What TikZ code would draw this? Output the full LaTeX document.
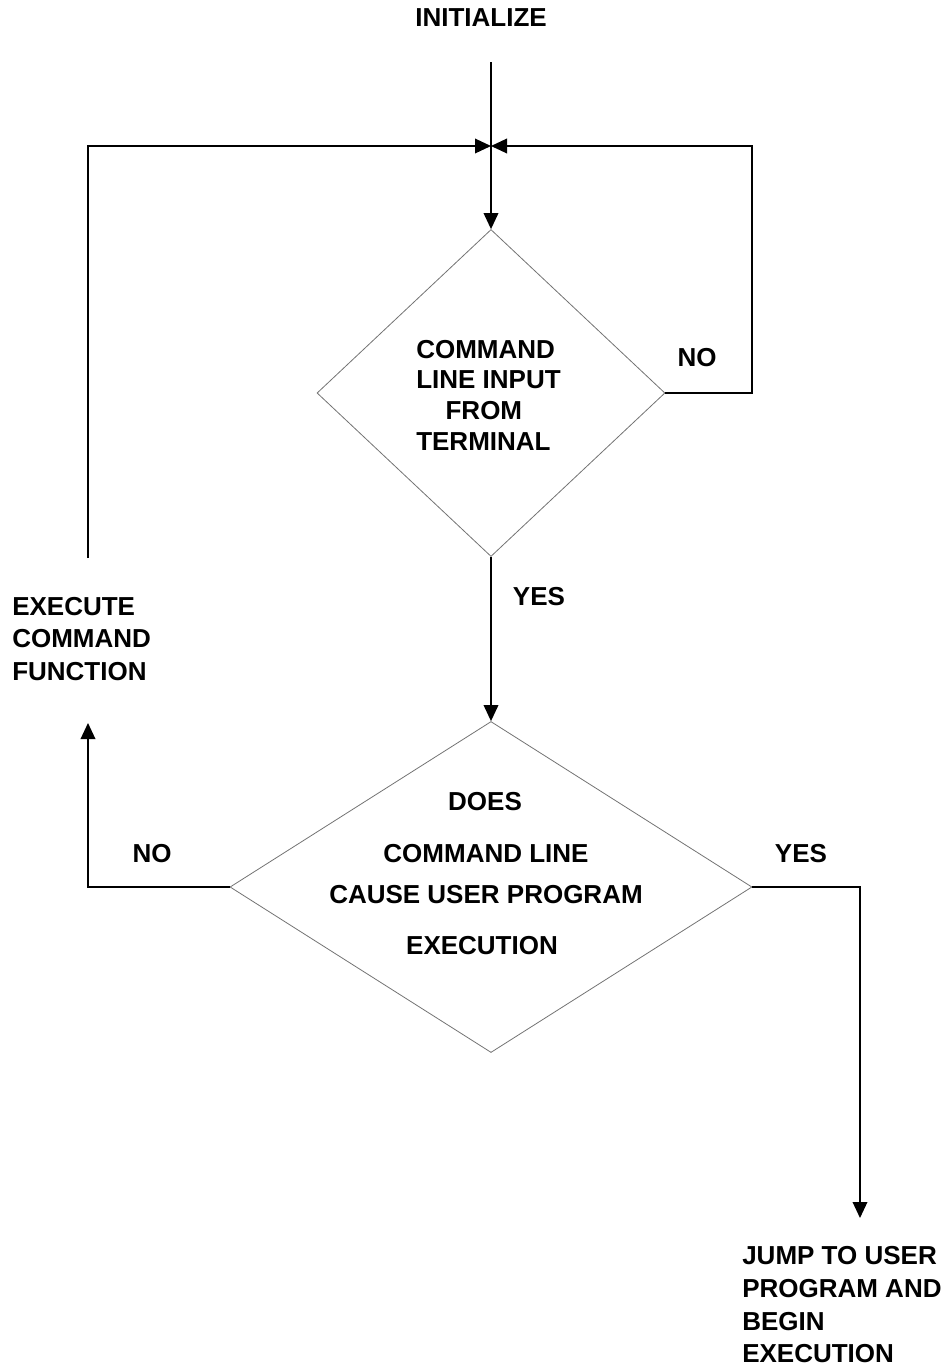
\documentclass[tikz,border=0pt]{standalone}
\usepackage{fontspec}
\setmainfont{Liberation Sans}
\usetikzlibrary{shapes,shapes.geometric,positioning,calc,arrows,arrows.meta}

\begin{document}
\begin{tikzpicture}[x=0.75pt, y=-0.75pt,
    every node/.style={font=\bfseries\fontsize{19.5}{24.5}\selectfont, inner sep=0pt},
    dec/.style={diamond, draw=black!55, line width=0.6pt, minimum width=#1},
    flow/.style={line width=1pt, -{Triangle[length=12pt,width=11pt]}}
    ]
    \useasboundingbox (0,0) rectangle (945,1368);

    % decisions
    \node[dec=348*0.75pt, minimum height=327*0.75pt] (dec_1) at (491,393) {};
    \node[dec=522*0.75pt, minimum height=331*0.75pt] (dec_2) at (491,887) {};

    \node (init) at (481,18) {INITIALIZE};
    \node[align=left, anchor=west, font=\bfseries\fontsize{19.5}{23}\selectfont]
        (input_txt) at (416,395) {COMMAND\\LINE INPUT\\\hspace{22pt}FROM\\TERMINAL};
    \foreach \x/\y/\t in {485/802/DOES, 486/854/COMMAND LINE, 486/895/CAUSE USER PROGRAM, 482/946/EXECUTION}
    {
        \node (cause_\y) at (\x,\y) {\t};
    }
    \node[align=left, anchor=west] (exec_txt) at (12,639) {EXECUTE\\COMMAND\\FUNCTION};
    \node[align=left, anchor=west] (jump_txt) at (742,1305) {JUMP TO USER\\PROGRAM AND\\BEGIN\\EXECUTION};

    \node (no_1) at (697,358) {NO};
    \node (yes_1) at (539,597) {YES};
    \node (no_2) at (152,854) {NO};
    \node (yes_2) at (801,854) {YES};

    \coordinate (init_end) at (491,62);
    \coordinate (join) at (491,146);
    \coordinate (exec_top) at (88,558);
    \coordinate (exec_bot) at (88,723);
    \coordinate (jump_top) at (860,1218);

    \draw[flow] (init_end) -- (dec_1.north);
    \draw[flow] (exec_top) |- (join);
    \draw[flow] (dec_1.east) -- (752,393) |- (join);
    \draw[flow] (dec_1.south) -- (dec_2.north);
    \draw[flow] (dec_2.west) -| (exec_bot);
    \draw[flow] (dec_2.east) -| (jump_top);

\end{tikzpicture}
\end{document}
